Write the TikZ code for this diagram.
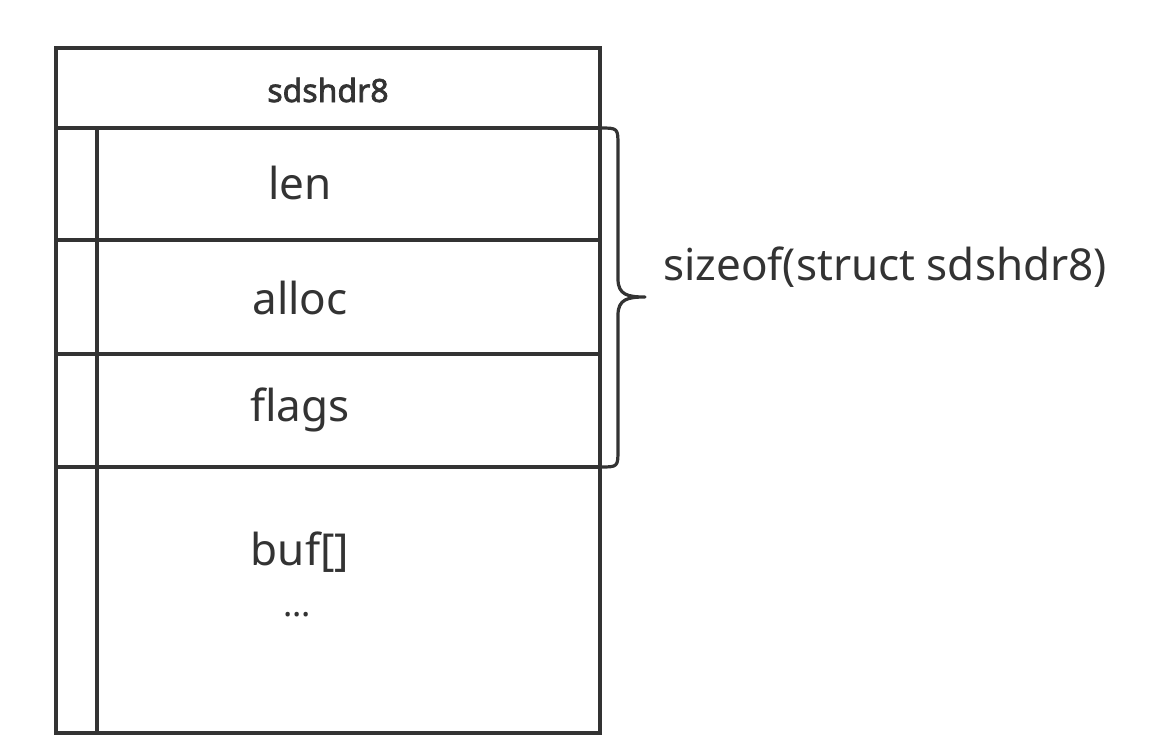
\documentclass[tikz,border=0pt]{standalone}
\usepackage{fontspec}
\setmainfont{Noto Sans}
\newfontfamily\hdrfont[AutoFakeBold=2.2]{Noto Sans}
\begin{document}
\begin{tikzpicture}[x=0.75pt,y=-0.75pt,
  line/.style={draw=ink,line width=2.4pt},
  lbl/.style={text=ink,font=\fontsize{33}{38}\selectfont,inner sep=0pt},
  hdr/.style={text=ink,font=\hdrfont\bfseries\fontsize{24}{28}\selectfont,inner sep=0pt}]
\definecolor{ink}{HTML}{333333}
\useasboundingbox (0,0) rectangle (1157,751);
% rows
\draw[line] (56,48) rectangle (600,128);
\draw[line] (56,128) rectangle (600,240);
\draw[line] (56,240) rectangle (600,354);
\draw[line] (56,354) rectangle (600,467);
\draw[line] (56,467) rectangle (600,733);
\draw[line] (97,128) -- (97,733);
% texts
\node[hdr] (title) at (328,90) {sdshdr8};
\node[lbl] (len) at (300,183) {len};
\node[lbl] (alloc) at (300,298) {alloc};
\node[lbl] (flags) at (300,410) {flags};
\node[lbl] (buf) at (300,552) {buf[]};
\node[lbl,font=\fontsize{26}{30}\selectfont] (dots) at (297,615) {...};
% brace
\coordinate (bt) at (600,128);
\coordinate (bb) at (600,467);
\coordinate (tip) at (645,297);
\draw[line,line cap=round,line join=round] (bt) .. controls (618,128) and (618,128) .. (618,146) -- (618,279)
  .. controls (618,295) and (628,297) .. (tip)
  .. controls (628,297) and (618,299) .. (618,315) -- (618,449)
  .. controls (618,467) and (618,467) .. (bb);
\node[lbl,anchor=base west] (size) at (663,280) {sizeof(struct sdshdr8)};
\end{tikzpicture}
\end{document}
